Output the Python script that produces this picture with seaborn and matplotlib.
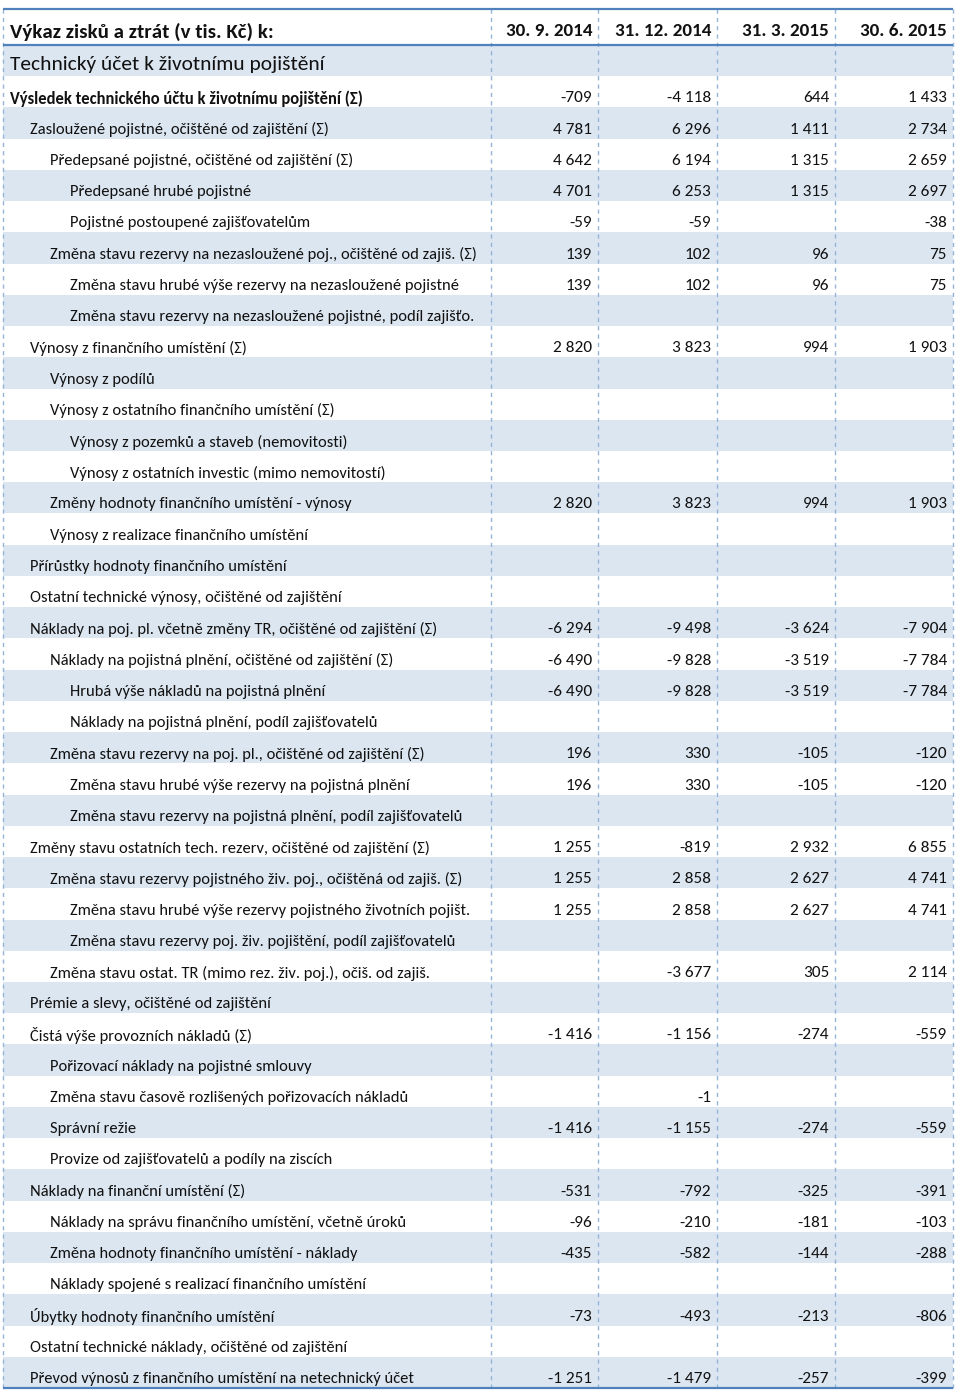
import matplotlib
matplotlib.use('Agg')
import matplotlib.pyplot as plt
from matplotlib import font_manager
from matplotlib.colors import ListedColormap
import numpy as np
import seaborn as sns

# hlavička tabulky
title = 'Výkaz zisků a ztrát (v tis. Kč) k:'
section = 'Technický účet k životnímu pojištění'
periods = ['30. 9. 2014', '31. 12. 2014', '31. 3. 2015', '30. 6. 2015']

# řádky výkazu a úroveň odsazení
items = [
    'Výsledek technického účtu k životnímu pojištění (Σ)',
    'Zasloužené pojistné, očištěné od zajištění (Σ)',
    'Předepsané pojistné, očištěné od zajištění (Σ)',
    'Předepsané hrubé pojistné',
    'Pojistné postoupené zajišťovatelům',
    'Změna stavu rezervy na nezasloužené poj., očištěné od zajiš. (Σ)',
    'Změna stavu hrubé výše rezervy na nezasloužené pojistné',
    'Změna stavu rezervy na nezasloužené pojistné, podíl zajišťo.',
    'Výnosy z finančního umístění (Σ)',
    'Výnosy z podílů',
    'Výnosy z ostatního finančního umístění (Σ)',
    'Výnosy z pozemků a staveb (nemovitosti)',
    'Výnosy z ostatních investic (mimo nemovitostí)',
    'Změny hodnoty finančního umístění - výnosy',
    'Výnosy z realizace finančního umístění',
    'Přírůstky hodnoty finančního umístění',
    'Ostatní technické výnosy, očištěné od zajištění',
    'Náklady na poj. pl. včetně změny TR, očištěné od zajištění (Σ)',
    'Náklady na pojistná plnění, očištěné od zajištění (Σ)',
    'Hrubá výše nákladů na pojistná plnění',
    'Náklady na pojistná plnění, podíl zajišťovatelů',
    'Změna stavu rezervy na poj. pl., očištěné od zajištění (Σ)',
    'Změna stavu hrubé výše rezervy na pojistná plnění',
    'Změna stavu rezervy na pojistná plnění, podíl zajišťovatelů',
    'Změny stavu ostatních tech. rezerv, očištěné od zajištění (Σ)',
    'Změna stavu rezervy pojistného živ. poj., očištěná od zajiš. (Σ)',
    'Změna stavu hrubé výše rezervy pojistného životních pojišt.',
    'Změna stavu rezervy poj. živ. pojištění, podíl zajišťovatelů',
    'Změna stavu ostat. TR (mimo rez. živ. poj.), očiš. od zajiš.',
    'Prémie a slevy, očištěné od zajištění',
    'Čistá výše provozních nákladů (Σ)',
    'Pořizovací náklady na pojistné smlouvy',
    'Změna stavu časově rozlišených pořizovacích nákladů',
    'Správní režie',
    'Provize od zajišťovatelů a podíly na ziscích',
    'Náklady na finanční umístění (Σ)',
    'Náklady na správu finančního umístění, včetně úroků',
    'Změna hodnoty finančního umístění - náklady',
    'Náklady spojené s realizací finančního umístění',
    'Úbytky hodnoty finančního umístění',
    'Ostatní technické náklady, očištěné od zajištění',
    'Převod výnosů z finančního umístění na netechnický účet',
]
levels = [0, 1, 2, 3, 3, 2, 3, 3, 1, 2, 2, 3, 3, 2, 2, 1, 1, 1, 2, 3, 3,
          2, 3, 3, 1, 2, 3, 3, 2, 1, 1, 2, 2, 2, 2, 1, 2, 2, 2, 1, 1, 1]

N = None
q3_2014 = [-709, 4781, 4642, 4701, -59, 139, 139, N, 2820, N, N, N, N, 2820,
           N, N, N, -6294, -6490, -6490, N, 196, 196, N, 1255, 1255, 1255, N,
           N, N, -1416, N, N, -1416, N, -531, -96, -435, N, -73, N, -1251]
q4_2014 = [-4118, 6296, 6194, 6253, -59, 102, 102, N, 3823, N, N, N, N, 3823,
           N, N, N, -9498, -9828, -9828, N, 330, 330, N, -819, 2858, 2858, N,
           -3677, N, -1156, N, -1, -1155, N, -792, -210, -582, N, -493, N, -1479]
q1_2015 = [644, 1411, 1315, 1315, N, 96, 96, N, 994, N, N, N, N, 994,
           N, N, N, -3624, -3519, -3519, N, -105, -105, N, 2932, 2627, 2627, N,
           305, N, -274, N, N, -274, N, -325, -181, -144, N, -213, N, -257]
q2_2015 = [1433, 2734, 2659, 2697, -38, 75, 75, N, 1903, N, N, N, N, 1903,
           N, N, N, -7904, -7784, -7784, N, -120, -120, N, 6855, 4741, 4741, N,
           2114, N, -559, N, N, -559, N, -391, -103, -288, N, -806, N, -399]
columns = [q3_2014, q4_2014, q1_2015, q2_2015]

sns.set_theme(style='white')
installed = {f.name for f in font_manager.fontManager.ttflist}
plt.rcParams['font.family'] = [f for f in ['Carlito', 'Lato'] if f in installed] + ['DejaVu Sans']

W, H = 960, 1392
fig = plt.figure(figsize=(W / 100, H / 100), dpi=100)

# střídavé pruhy řádků
top, bottom = 45, 1388
n_rows = len(items) + 1
band = np.array([[1 - i % 2] for i in range(n_rows)])
ax_b = fig.add_axes([3 / W, 1 - bottom / H, 950 / W, (bottom - top) / H])
sns.heatmap(band, cmap=ListedColormap(['white', '#DCE6F1']), vmin=0, vmax=1,
            cbar=False, xticklabels=False, yticklabels=False, ax=ax_b)
ax_b.axis('off')

ax = fig.add_axes([0, 0, 1, 1])
ax.set_xlim(0, W)
ax.set_ylim(H, 0)
ax.axis('off')
ax.patch.set_alpha(0)

row_h = (bottom - top) / n_rows
col_edges = [3, 491, 598, 717, 835, 953]
txt_color = '#111111'

# mřížka
ax.vlines(col_edges, 9, bottom, colors='#95B3D7', linestyles=(0, (3, 3)), lw=1)
ax.hlines([9, 45, bottom], 3, 953, colors='#4F81BD', lw=1.6)

# záhlaví
ax.text(10, 31.5, title, fontsize=15, fontweight='bold', va='center', color=txt_color)
for j, p in enumerate(periods):
    ax.text(col_edges[j + 2] - 6, 31.5, p, fontsize=13.8, fontweight='bold',
            va='center', ha='right', color=txt_color)
ax.text(10, top + row_h - 12, section, fontsize=15.4, va='center', color=txt_color)

# řádky
for i, (label, lev) in enumerate(zip(items, levels)):
    y = top + (i + 2) * row_h - 9
    ax.text(10 + 20 * lev, y, label, fontsize=11.9, va='center', color=txt_color,
            fontweight='bold' if lev == 0 else 'normal')
    for j, col in enumerate(columns):
        v = col[i]
        if v is None:
            continue
        s = f'{v:,}'.replace(',', ' ')
        ax.text(col_edges[j + 2] - 6, y, s, fontsize=12.4, va='center', ha='right',
                color=txt_color)

fig.savefig('out.png', dpi=100)
